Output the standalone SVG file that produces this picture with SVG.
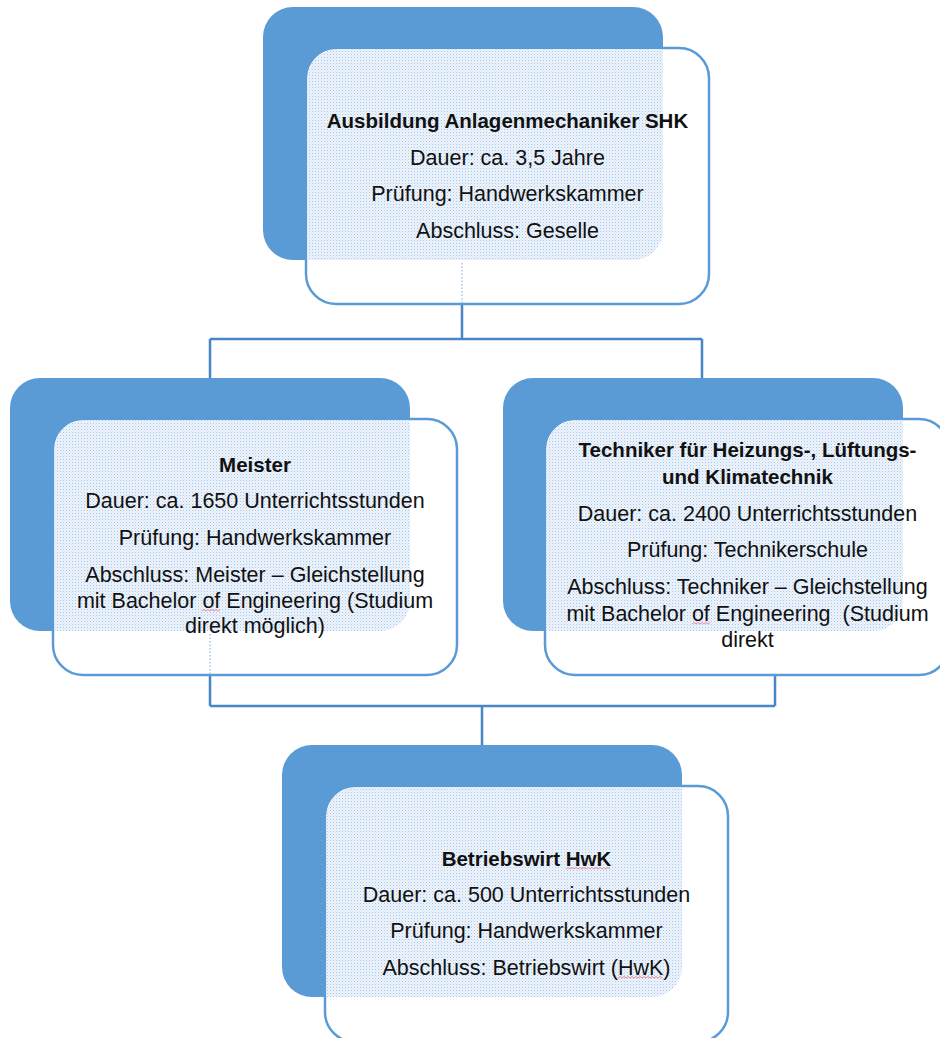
<svg xmlns="http://www.w3.org/2000/svg" width="940" height="1038" viewBox="0 0 940 1038">
<style>
.back{fill:#5b9bd5}
.front{fill:#ffffff;stroke:#5b9bd5;stroke-width:2.5}
.tint{fill:url(#dots)}
.conn{fill:none;stroke:#4a86c5;stroke-width:2.5}
.faint{fill:none;stroke:#a9c6e6;stroke-width:1.5;stroke-dasharray:1.5 2}
text{font-family:"Liberation Sans",Arial,sans-serif;font-size:21.5px;fill:#111;text-anchor:middle}
.t{font-weight:bold;font-size:20.5px}
.sp{fill:none;stroke:#f08a96;stroke-width:1}
</style>
<defs>
<pattern id="dots" width="3" height="3" patternUnits="userSpaceOnUse">
<rect width="3" height="3" fill="#eef4fb"/>
<rect width="1" height="1" fill="#a8c6e8"/>
<rect x="1.5" y="1.5" width="1" height="1" fill="#c6daf0"/>
</pattern>
<clipPath id="c1"><rect x="263" y="7" width="400" height="253" rx="30"/></clipPath>
<clipPath id="c2"><rect x="10" y="378" width="400" height="253" rx="30"/></clipPath>
<clipPath id="c3"><rect x="503" y="378" width="400" height="253" rx="30"/></clipPath>
<clipPath id="c4"><rect x="282" y="745" width="400" height="252" rx="30"/></clipPath>
</defs>
<g id="connectors">
<path class="conn" d="M462,304 V339 M210,339 H702 M210,339 V378 M702,339 V378"/>
<path class="conn" d="M210,675 V706 M775,675 V706 M210,706 H775 M482,706 V745"/>
</g>
<g id="node-ausbildung">
<rect class="back" x="263" y="7" width="400" height="253" rx="30"/>
<rect class="front" x="306" y="48" width="403" height="256" rx="30"/>
<rect class="tint" x="307.5" y="49.5" width="400" height="253" rx="29" clip-path="url(#c1)"/>
<path class="faint" d="M462,263 V303"/>
<text class="t" x="507.5" y="128">Ausbildung Anlagenmechaniker SHK</text>
<text x="507.5" y="165">Dauer: ca. 3,5 Jahre</text>
<text x="507.5" y="201">Prüfung: Handwerkskammer</text>
<text x="507.5" y="238">Abschluss: Geselle</text>
</g>
<g id="node-meister">
<rect class="back" x="10" y="378" width="400" height="253" rx="30"/>
<rect class="front" x="53" y="419" width="404" height="256" rx="30"/>
<rect class="tint" x="54.5" y="420.5" width="401" height="253" rx="29" clip-path="url(#c2)"/>
<path class="faint" d="M210,634 V674"/>
<text class="t" x="255" y="472">Meister</text>
<text x="255" y="508">Dauer: ca. 1650 Unterrichtsstunden</text>
<text x="255" y="545">Prüfung: Handwerkskammer</text>
<text x="255" y="582">Abschluss: Meister – Gleichstellung</text>
<text x="255" y="608">mit Bachelor of Engineering (Studium</text>
<text x="255" y="633">direkt möglich)</text>
<path class="sp" d="M202,611 l2,-1.5 l2,1.5 l2,-1.5 l2,1.5 l2,-1.5 l2,1.5 l2,-1.5 l2,1.5 l2,-1.5"/>
</g>
<g id="node-techniker">
<rect class="back" x="503" y="378" width="400" height="253" rx="30"/>
<rect class="front" x="545" y="419" width="404" height="256" rx="30"/>
<rect class="tint" x="546.5" y="420.5" width="401" height="253" rx="29" clip-path="url(#c3)"/>
<text class="t" x="747.5" y="457">Techniker für Heizungs-, Lüftungs-</text>
<text class="t" x="747.5" y="484">und Klimatechnik</text>
<text x="747.5" y="521">Dauer: ca. 2400 Unterrichtsstunden</text>
<text x="747.5" y="557">Prüfung: Technikerschule</text>
<text x="747.5" y="594">Abschluss: Techniker – Gleichstellung</text>
<text x="747.5" y="621" xml:space="preserve">mit Bachelor of Engineering  (Studium</text>
<text x="747.5" y="647">direkt</text>
<path class="sp" d="M692,624 l2,-1.5 l2,1.5 l2,-1.5 l2,1.5 l2,-1.5 l2,1.5 l2,-1.5 l2,1.5 l2,-1.5"/>
</g>
<g id="node-betriebswirt">
<rect class="back" x="282" y="745" width="400" height="252" rx="30"/>
<rect class="front" x="325" y="786" width="403" height="256" rx="30"/>
<rect class="tint" x="326.5" y="787.5" width="400" height="253" rx="29" clip-path="url(#c4)"/>
<text class="t" x="526.5" y="866">Betriebswirt HwK</text>
<text x="526.5" y="902">Dauer: ca. 500 Unterrichtsstunden</text>
<text x="526.5" y="938">Prüfung: Handwerkskammer</text>
<text x="526.5" y="975">Abschluss: Betriebswirt (HwK)</text>
<path class="sp" d="M566,869 l2,-1.5 l2,1.5 l2,-1.5 l2,1.5 l2,-1.5 l2,1.5 l2,-1.5 l2,1.5 l2,-1.5 l2,1.5 l2,-1.5 l2,1.5 l2,-1.5 l2,1.5 l2,-1.5 l2,1.5 l2,-1.5 l2,1.5 l2,-1.5 l2,1.5 l2,-1.5 l2,1.5"/>
<path class="sp" d="M618,978 l2,-1.5 l2,1.5 l2,-1.5 l2,1.5 l2,-1.5 l2,1.5 l2,-1.5 l2,1.5 l2,-1.5 l2,1.5 l2,-1.5 l2,1.5 l2,-1.5 l2,1.5 l2,-1.5 l2,1.5 l2,-1.5 l2,1.5 l2,-1.5 l2,1.5 l2,-1.5 l2,1.5"/>
</g>
</svg>
